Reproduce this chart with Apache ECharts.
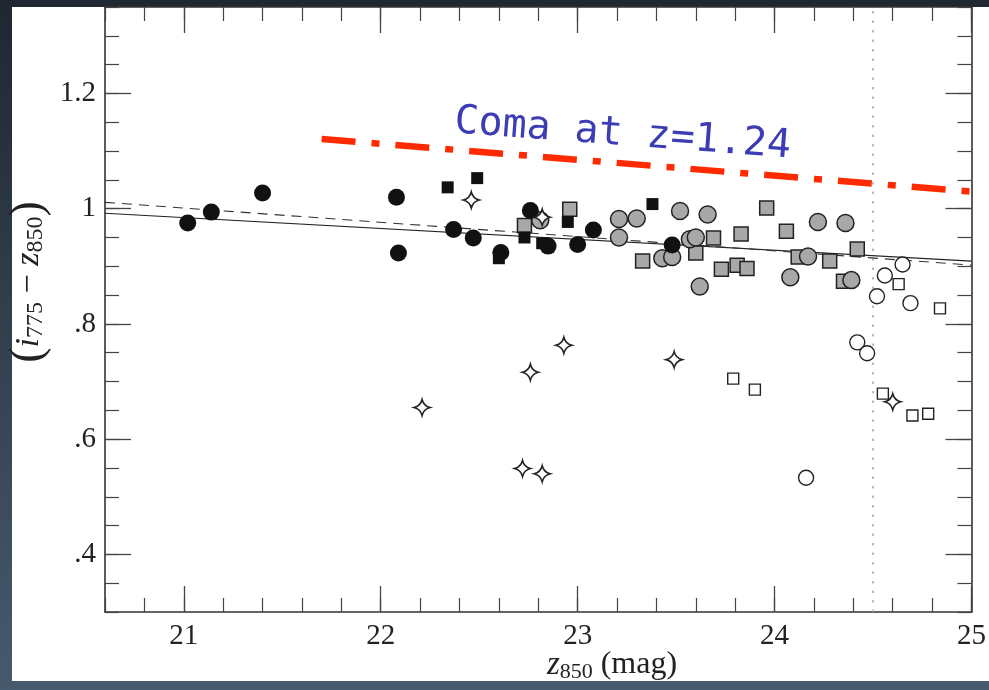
<!DOCTYPE html>
<html><head><meta charset="utf-8">
<script src="https://cdn.jsdelivr.net/npm/echarts@6/dist/echarts.min.js"></script>
<style>html,body{margin:0;padding:0;background:#2a3440;}#c{width:989px;height:690px;}</style>
</head><body><div id="c"></div>
<script>
// ---- data ----
const xMajorTicks = [21, 22, 23, 24, 25];
const yMajorTicks = [0.4, 0.6, 0.8, 1.0, 1.2];
const blackCircles = [[21.02,0.975],[21.14,0.994],[21.40,1.027],[22.08,1.020],[22.09,0.923],[22.37,0.964],[22.47,0.949],[22.61,0.924],[22.76,0.997],[22.85,0.935],[23.00,0.938],[23.08,0.963],[23.48,0.937]];
const blackSquares = [[22.34,1.037],[22.49,1.053],[22.60,0.914],[22.73,0.950],[22.95,0.977],[22.82,0.940],[23.38,1.008]];
const graySquares = [[22.73,0.971],[22.96,0.999],[23.33,0.909],[23.60,0.923],[23.69,0.949],[23.83,0.956],[23.73,0.895],[23.81,0.902],[23.86,0.896],[23.96,1.001],[24.06,0.961],[24.12,0.916],[24.28,0.909],[24.35,0.874],[24.42,0.930]];
const grayCircles = [[22.81,0.980],[23.21,0.982],[23.30,0.983],[23.21,0.950],[23.43,0.914],[23.48,0.916],[23.52,0.996],[23.57,0.947],[23.60,0.950],[23.66,0.990],[23.62,0.865],[24.17,0.917],[24.22,0.977],[24.36,0.975],[24.08,0.881],[24.39,0.876]];
const openCircles = [[24.65,0.903],[24.56,0.884],[24.52,0.848],[24.69,0.836],[24.42,0.768],[24.47,0.749],[24.16,0.533]];
const openSquares = [[24.63,0.869],[24.84,0.827],[23.79,0.705],[23.90,0.686],[24.55,0.679],[24.70,0.641],[24.78,0.644]];
const stars = [[22.46,1.015],[22.82,0.985],[22.21,0.655],[22.76,0.716],[22.93,0.763],[23.49,0.738],[22.72,0.549],[22.82,0.540],[24.60,0.665]];
const fitSolid = [[20.6,0.992],[25.0,0.909]];
const fitDashed = [[20.6,1.011],[25.0,0.902]];
const limitLine = [[24.5,0.3],[24.5,1.35]];
const comaLine = [[21.70,1.121],[25.09,1.027]];
const comaText = 'Coma at z=1.24';

// ---- chart ----
const SERIF = 'Liberation Serif';
const STAR = 'path://M10,0 Q12,8 20,10 Q12,12 10,20 Q8,12 0,10 Q8,8 10,0 Z';
const chart = echarts.init(document.getElementById('c'));
const lineC = '#333';
function majorX(pos, labels){
  return {type:'value', min:20.6, max:25, position:pos, gridIndex:0,
    axisLine:{show:true, onZero:false, lineStyle:{color:lineC, width:1.6}},
    axisTick:{show:true, inside:true, length:26, customValues:xMajorTicks, lineStyle:{color:'#444', width:1.3}},
    axisLabel:{show:labels, customValues:xMajorTicks, margin:10, fontFamily:SERIF, fontSize:29, color:'#222', formatter:v=>String(Math.round(v))},
    splitLine:{show:false}};
}
function minorX(pos){
  return {type:'value', min:20.6, max:25, interval:0.2, position:pos, gridIndex:0,
    axisLine:{show:false, onZero:false}, axisTick:{show:true, inside:true, length:14, lineStyle:{color:'#444', width:1.2}},
    axisLabel:{show:false}, splitLine:{show:false}};
}
function majorY(pos, labels){
  return {type:'value', min:0.3, max:1.35, position:pos, gridIndex:0,
    axisLine:{show:true, onZero:false, lineStyle:{color:lineC, width:1.6}},
    axisTick:{show:true, inside:true, length:26, customValues:yMajorTicks, lineStyle:{color:'#444', width:1.3}},
    axisLabel:{show:labels, customValues:yMajorTicks, margin:9, fontFamily:SERIF, fontSize:29, color:'#222',
      formatter:v=>{ if (Math.abs(v-1)<1e-6) return '1'; const s=v.toFixed(1); return v<1 ? s.replace(/^0/,'') : s; }},
    splitLine:{show:false}};
}
function minorY(pos){
  return {type:'value', min:0.3, max:1.35, interval:0.05, position:pos, gridIndex:0,
    axisLine:{show:false, onZero:false}, axisTick:{show:true, inside:true, length:14, lineStyle:{color:'#444', width:1.2}},
    axisLabel:{show:false}, splitLine:{show:false}};
}
function scat(data, symbol, size, fill, stroke, bw){
  return {type:'scatter', data:data, symbol:symbol, symbolSize:size, xAxisIndex:0, yAxisIndex:0,
    itemStyle:{color:fill, borderColor:stroke, borderWidth:bw, opacity:1}, z:5};
}
const option = {
  animation:false,
  backgroundColor:{type:'linear', x:0, y:0, x2:0, y2:1, colorStops:[{offset:0,color:'#1f2731'},{offset:1,color:'#475a6d'}]},
  grid:{left:105, right:17, top:7, bottom:78, containLabel:false},
  xAxis:[majorX('bottom', true), minorX('bottom'), majorX('top', false), minorX('top')],
  yAxis:[majorY('left', true), minorY('left'), majorY('right', false), minorY('right')],
  graphic:[
    {type:'rect', shape:{x:12, y:7, width:977, height:674}, style:{fill:'#ffffff'}, z:-100, silent:true},
    {type:'text', x:29, y:282, rotation:Math.PI/2, z:10,
      style:{text:'{p|(}{it|i}{sub|775}{n| − }{it|z}{sub|850}{p|)}', align:'center', verticalAlign:'middle',
        rich:{p:{fontFamily:SERIF, fontSize:46, fill:'#222'}, it:{fontFamily:SERIF, fontStyle:'italic', fontSize:34, fill:'#222'},
          sub:{fontFamily:SERIF, fontSize:24, fill:'#222', padding:[14,0,0,0]}, n:{fontFamily:SERIF, fontSize:34, fill:'#222'}}}},
    {type:'text', x:612, y:665, z:10,
      style:{text:'{it|z}{sub|850}{n| (mag)}', align:'center', verticalAlign:'middle',
        rich:{it:{fontFamily:SERIF, fontStyle:'italic', fontSize:33, fill:'#222'}, sub:{fontFamily:SERIF, fontSize:22, fill:'#222', padding:[15,0,0,0]},
          n:{fontFamily:SERIF, fontSize:32, fill:'#222'}}}},
    {type:'text', x:456, y:102, rotation:-0.075, z:10,
      style:{text:comaText, fontFamily:'DejaVu Sans Mono', fontSize:40, fill:'#3c3cb4', align:'left', verticalAlign:'top'}}
  ],
  series:[
    {type:'line', data:limitLine, symbol:'none', lineStyle:{color:'#aaa', width:1.6, type:[2.5,7]}, z:1},
    {type:'line', data:fitSolid, symbol:'none', lineStyle:{color:'#222', width:1.1}, z:3},
    {type:'line', data:fitDashed, symbol:'none', lineStyle:{color:'#333', width:1.1, type:[10,7]}, z:3},
    scat(graySquares, 'rect', 14, '#a8a8a8', '#222', 1.5),
    scat(grayCircles, 'circle', 17, '#a8a8a8', '#222', 1.5),
    scat(blackCircles, 'circle', 17, '#111', '#111', 0),
    scat(blackSquares, 'rect', 12, '#111', '#111', 0),
    scat(openCircles, 'circle', 15, '#fff', '#222', 1.4),
    scat(openSquares, 'rect', 11, '#fff', '#222', 1.4),
    scat(stars, STAR, 16, '#fff', '#222', 1.6),
    {type:'line', data:comaLine, symbol:'none', clip:false, lineStyle:{color:'#ff2a00', width:6.5, type:[34,16,8,16]}, z:6}
  ]
};
chart.setOption(option);
</script></body></html>
